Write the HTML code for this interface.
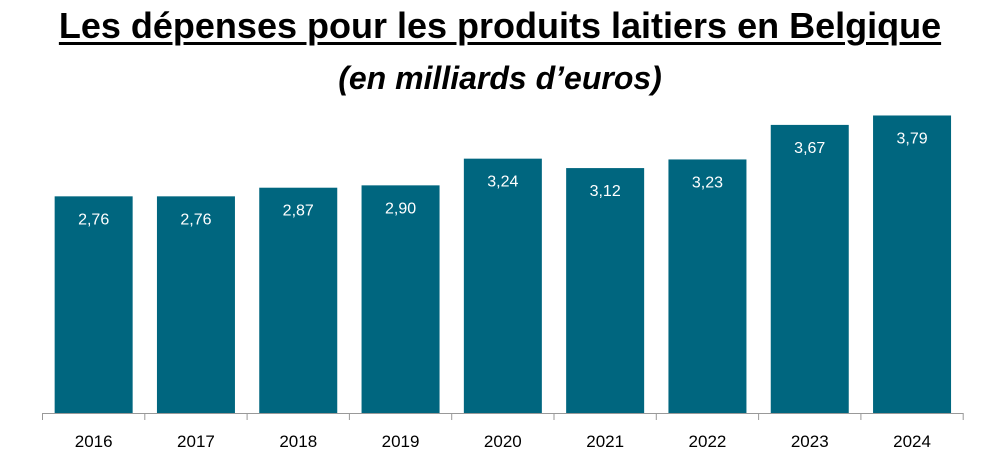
<!DOCTYPE html>
<html><head><meta charset="utf-8"><style>
body{margin:0;width:1000px;height:466px;background:#fff;overflow:hidden;font-family:"Liberation Sans",sans-serif}
.t{position:absolute;left:0;width:1000px;text-align:center;font-weight:bold;color:#000}
</style></head><body>
<div class="t" style="top:5px;font-size:36px;text-decoration:underline;text-underline-offset:4px;text-decoration-thickness:3px">Les dépenses pour les produits laitiers en Belgique</div>
<div class="t" style="top:60px;font-size:32px;font-style:italic">(en milliards d’euros)</div>
<svg id="c" width="1000" height="466" style="position:absolute;left:0;top:0"></svg>
<script>
const categories=["2016","2017","2018","2019","2020","2021","2022","2023","2024"];
const values=[2.76,2.76,2.87,2.90,3.24,3.12,3.23,3.67,3.79];
const labels=["2,76","2,76","2,87","2,90","3,24","3,12","3,23","3,67","3,79"];
const svg=document.getElementById('c');const NS='http://www.w3.org/2000/svg';
const x0=42.5,step=102.3,base=413,k=78.5,bw=78;
const y=v=>base-v*k;
function mk(t,a){const e=document.createElementNS(NS,t);for(const n in a)e.setAttribute(n,a[n]);svg.appendChild(e);return e;}
categories.forEach((c,i)=>{
 const cx=x0+step*(i+0.5);
 const r=mk('rect',{x:cx-bw/2,y:y(values[i]),width:bw,height:base-y(values[i]),fill:'#00667f'});
 
 
 const t=mk('text',{x:cx,y:y(values[i])+28,'text-anchor':'middle','font-size':'16',fill:'#fff'});
 t.textContent=labels[i];
 
 
 const l=mk('text',{x:cx,y:447,'text-anchor':'middle','font-size':'17',fill:'#000'});
 l.textContent=c;
 
 
});
const ax=mk('line',{x1:x0,x2:x0+step*categories.length,y1:base+0.5,y2:base+0.5,stroke:'#999','stroke-width':1});


for(let i=0;i<=categories.length;i++){
 const tk=mk('line',{x1:x0+step*i,x2:x0+step*i,y1:base,y2:base+7,stroke:'#999'});
 
 
}
</script>
</body></html>
